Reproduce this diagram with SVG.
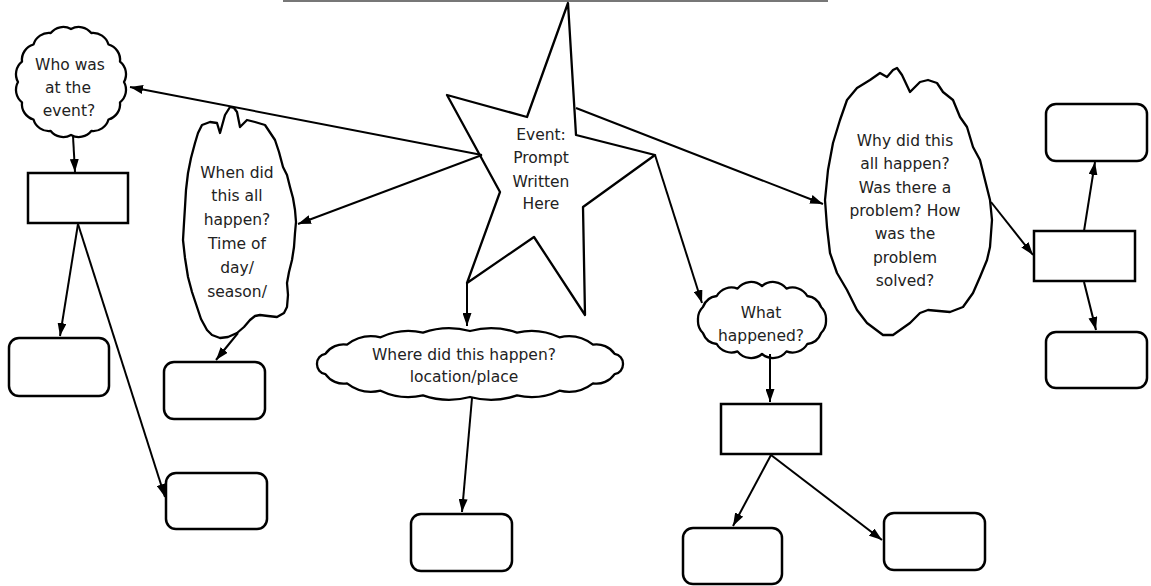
<svg xmlns="http://www.w3.org/2000/svg" width="1151" height="586" viewBox="0 0 1151 586">
<style>
.shape{fill:#fff;stroke:#000;stroke-width:2.3;stroke-linejoin:round}
.box{fill:#fff;stroke:#000;stroke-width:2.5}
.lbl{font-family:"DejaVu Sans",sans-serif;font-size:15.5px;fill:#222;text-anchor:middle}
.conn{fill:none;stroke:#000;stroke-width:2;marker-end:url(#ah)}
</style>
<defs>
<marker id="ah" viewBox="0 0 13 9" refX="13" refY="4.5" markerWidth="13" markerHeight="9" markerUnits="userSpaceOnUse" orient="auto">
<path d="M0,0 L13,4.5 L0,9 Z" fill="#000"/>
</marker>
</defs>
<rect width="1151" height="586" fill="#fff"/>
<line x1="283" y1="1" x2="828" y2="1" stroke="#777" stroke-width="2"/>

<g id="star">
<polygon class="shape" points="568,3 576,135 655,155 583,207 585,315 534,237 467,283 500,192 447,95 527,117"/>
<text class="lbl" x="541" y="140">Event:</text>
<text class="lbl" x="541" y="163">Prompt</text>
<text class="lbl" x="541" y="187">Written</text>
<text class="lbl" x="541" y="209">Here</text>
</g>

<g id="who">
<path class="shape" d="M124,82 A16,16 0 0 1 120,102.3 A16,16 0 0 1 108.5,119.5 A16,16 0 0 1 91.3,131 A16,16 0 0 1 71,135 A16,16 0 0 1 50.7,131 A16,16 0 0 1 33.5,119.5 A16,16 0 0 1 22,102.3 A16,16 0 0 1 18,82 A16,16 0 0 1 22,61.7 A16,16 0 0 1 33.5,44.5 A16,16 0 0 1 50.7,33 A16,16 0 0 1 71,29 A16,16 0 0 1 91.3,33 A16,16 0 0 1 108.5,44.5 A16,16 0 0 1 120,61.7 A16,16 0 0 1 124,82 Z"/>
<text class="lbl" x="70" y="70">Who was</text>
<text class="lbl" x="68" y="93">at the</text>
<text class="lbl" x="69" y="116">event?</text>
</g>

<g id="when">
<path class="shape" d="M202,125 L210,122 L217,123 L220,133 L225,115 L230,107 L234,108 L237,112 L240,127 L247,120 L255,122 L265,125 L275,140 L279,152 L283,167 L287,175 L290,187 L293,198 L295,210 L296,222 L295,233 L294,247 L292,260 L289,272 L287,283 L288,295 L287,307 L284,313 L277,317 L268,316 L260,315 L255,316 L250,320 L244,327 L237,333 L228,337 L220,338 L212,335 L207,330 L201,319 L197,307 L192,292 L188,277 L185,258 L183,240 L184,223 L185,207 L186,190 L188,173 L191,158 L195,143 L198,133 Z"/>
<text class="lbl" x="237" y="178">When did</text>
<text class="lbl" x="237" y="201">this all</text>
<text class="lbl" x="237" y="225">happen?</text>
<text class="lbl" x="237" y="249">Time of</text>
<text class="lbl" x="237" y="273">day/</text>
<text class="lbl" x="237" y="297">season/</text>
</g>

<g id="where">
<path class="shape" d="M623,364 A10,10 0 0 1 614.6,374.2 A22,22 0 0 1 593,383.4 A40,40 0 0 1 559.4,390.7 A65,65 0 0 1 517,395.4 A80,80 0 0 1 470,397 A80,80 0 0 1 423,395.4 A65,65 0 0 1 380.6,390.7 A40,40 0 0 1 347,383.4 A22,22 0 0 1 325.4,374.2 A10,10 0 0 1 317,364 A10,10 0 0 1 325.4,353.8 A22,22 0 0 1 347,344.6 A40,40 0 0 1 380.6,337.3 A65,65 0 0 1 423,332.6 A80,80 0 0 1 470,331 A80,80 0 0 1 517,332.6 A65,65 0 0 1 559.4,337.3 A40,40 0 0 1 593,344.6 A22,22 0 0 1 614.6,353.8 A10,10 0 0 1 623,364 Z"/>
<text class="lbl" x="464" y="360">Where did this happen?</text>
<text class="lbl" x="464" y="382">location/place</text>
</g>

<g id="what">
<path class="shape" d="M826,320 A17,17 0 0 1 821.1,333 A17,17 0 0 1 807.3,344 A17,17 0 0 1 786.5,351.4 A17,17 0 0 1 762,354 A17,17 0 0 1 737.5,351.4 A17,17 0 0 1 716.7,344 A17,17 0 0 1 702.9,333 A17,17 0 0 1 698,320 A17,17 0 0 1 702.9,307 A17,17 0 0 1 716.7,296 A17,17 0 0 1 737.5,288.6 A17,17 0 0 1 762,286 A17,17 0 0 1 786.5,288.6 A17,17 0 0 1 807.3,296 A17,17 0 0 1 821.1,307 A17,17 0 0 1 826,320 Z"/>
<text class="lbl" x="761" y="318">What</text>
<text class="lbl" x="761" y="341">happened?</text>
</g>

<g id="why">
<path class="shape" d="M897,68 L902,75 L910,92 L920,82 L928,80 L937,83 L943,92 L953,100 L960,117 L967,127 L973,147 L980,160 L985,180 L990,200 L992,220 L990,247 L987,260 L980,277 L973,293 L963,307 L950,312 L928,310 L920,313 L910,323 L893,335 L883,335 L867,323 L857,310 L847,290 L837,273 L830,253 L827,227 L825,200 L828,170 L833,143 L840,120 L847,100 L857,88 L870,80 L880,73 L887,77 L893,70 Z"/>
<text class="lbl" x="905" y="146">Why did this</text>
<text class="lbl" x="905" y="169">all happen?</text>
<text class="lbl" x="905" y="193">Was there a</text>
<text class="lbl" x="905" y="216">problem? How</text>
<text class="lbl" x="905" y="239">was the</text>
<text class="lbl" x="905" y="263">problem</text>
<text class="lbl" x="905" y="286">solved?</text>
</g>

<g id="box-who"><rect class="box" x="28" y="173" width="100" height="50"/></g>
<g id="box-who-a"><rect class="box" x="9" y="338" width="100" height="58" rx="10"/></g>
<g id="box-who-b"><rect class="box" x="166" y="473" width="101" height="56" rx="10"/></g>
<g id="box-when"><rect class="box" x="164" y="362" width="101" height="57" rx="10"/></g>
<g id="box-where"><rect class="box" x="411" y="514" width="101" height="57" rx="10"/></g>
<g id="box-what"><rect class="box" x="721" y="404" width="100" height="50"/></g>
<g id="box-what-a"><rect class="box" x="683" y="528" width="99" height="56" rx="10"/></g>
<g id="box-what-b"><rect class="box" x="884" y="513" width="101" height="57" rx="10"/></g>
<g id="box-why"><rect class="box" x="1034" y="231" width="101" height="50"/></g>
<g id="box-why-a"><rect class="box" x="1046" y="104" width="101" height="57" rx="10"/></g>
<g id="box-why-b"><rect class="box" x="1046" y="332" width="101" height="56" rx="10"/></g>

<g id="connectors">
<line class="conn" x1="482" y1="155" x2="130" y2="87"/>
<line class="conn" x1="482" y1="155" x2="298" y2="224"/>
<line class="conn" x1="576" y1="108" x2="823" y2="204"/>
<line class="conn" x1="655" y1="155" x2="702" y2="303"/>
<line class="conn" x1="467" y1="283" x2="467" y2="326"/>
<line class="conn" x1="73" y1="136" x2="75" y2="172"/>
<line class="conn" x1="78" y1="224" x2="60" y2="336"/>
<line class="conn" x1="78" y1="224" x2="165" y2="497"/>
<line class="conn" x1="238" y1="333" x2="216" y2="360"/>
<line class="conn" x1="472" y1="398" x2="462" y2="512"/>
<line class="conn" x1="770" y1="354" x2="770" y2="402"/>
<line class="conn" x1="771" y1="455" x2="733" y2="526"/>
<line class="conn" x1="771" y1="455" x2="882" y2="540"/>
<line class="conn" x1="991" y1="202" x2="1033" y2="255"/>
<line class="conn" x1="1084" y1="231" x2="1095" y2="162"/>
<line class="conn" x1="1084" y1="282" x2="1096" y2="330"/>
</g>
</svg>
